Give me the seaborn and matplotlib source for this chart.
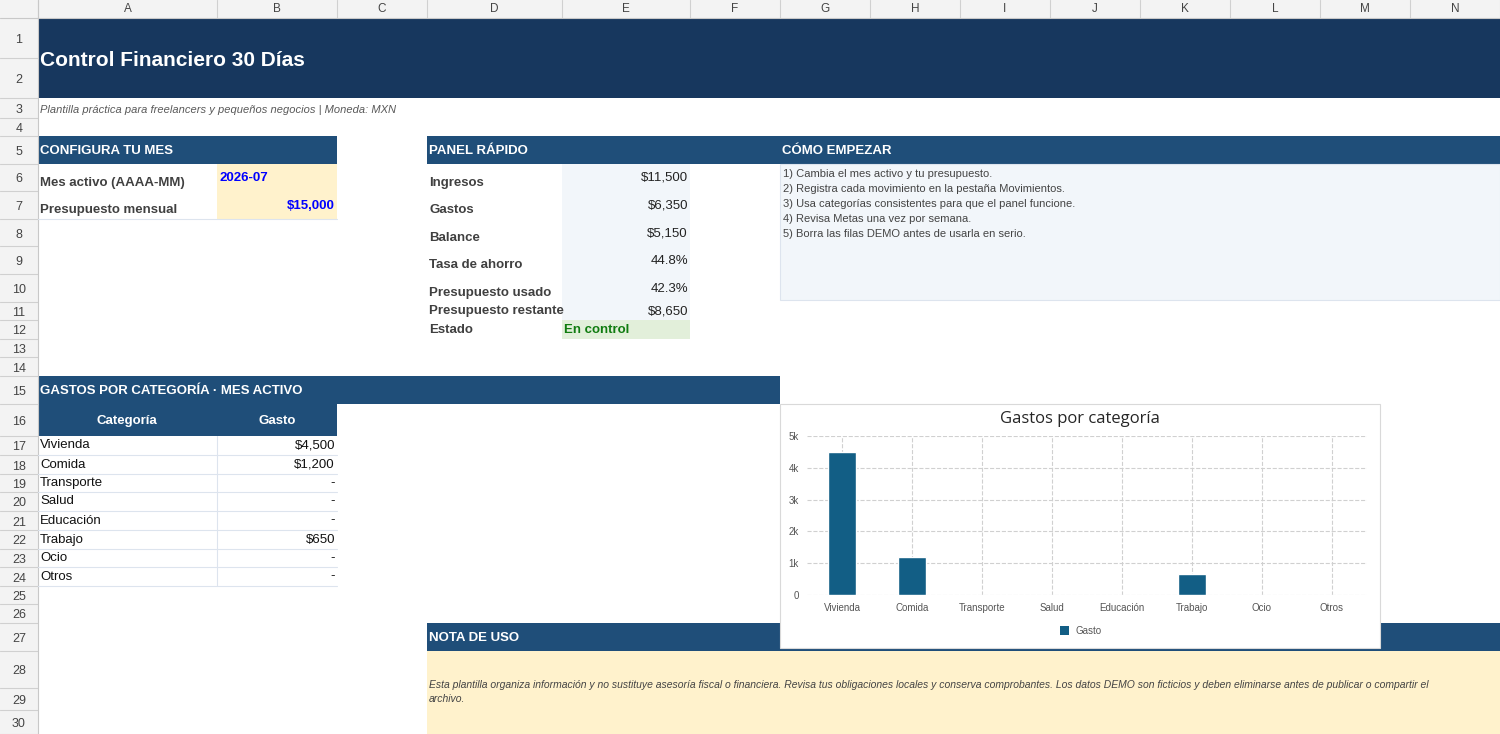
import matplotlib
matplotlib.use("Agg")
import matplotlib.pyplot as plt
import matplotlib.patches as mpatches
import seaborn as sns
import pandas as pd

sns.set_style("white")
plt.rcParams['font.family'] = ['Liberation Sans', 'DejaVu Sans']

# data
categorias = ["Vivienda", "Comida", "Transporte", "Salud", "Educación", "Trabajo", "Ocio", "Otros"]
gastos = [4500, 1200, 0, 0, 0, 650, 0, 0]
gastos_txt = ["$4,500", "$1,200", "-", "-", "-", "$650", "-", "-"]
panel_labels = ["Ingresos", "Gastos", "Balance", "Tasa de ahorro", "Presupuesto usado",
                "Presupuesto restante", "Estado"]
panel_values = ["$11,500", "$6,350", "$5,150", "44.8%", "42.3%", "$8,650", "En control"]
pasos = ["1) Cambia el mes activo y tu presupuesto.",
         "2) Registra cada movimiento en la pestaña Movimientos.",
         "3) Usa categorías consistentes para que el panel funcione.",
         "4) Revisa Metas una vez por semana.",
         "5) Borra las filas DEMO antes de usarla en serio."]
col_names = list("ABCDEFGHIJKLMN")
col_x = [38, 217, 337, 427, 562, 690, 780, 870, 960, 1050, 1140, 1230, 1320, 1410, 1500]
row_y = [18, 58, 98, 118, 136, 164, 191, 219, 246, 274, 302, 320, 339, 357, 376, 404,
         436, 455, 474, 492, 511, 530, 549, 567, 586, 604, 623, 651, 688, 710, 734]

W, H = 1500, 734
fig = plt.figure(figsize=(15, 7.34), dpi=100)
ax = fig.add_axes([0, 0, 1, 1])
ax.set_xlim(0, W)
ax.set_ylim(H, 0)
ax.axis("off")

DARK = "#17375e"
HEAD = "#1f4e79"
TXT = "#404040"

def rect(x0, y0, x1, y1, fc, ec="none", lw=0.8, z=1):
    ax.add_patch(mpatches.Rectangle((x0, y0), x1 - x0, y1 - y0, fc=fc, ec=ec, lw=lw, zorder=z))

def cy(r):
    return (row_y[r - 1] + row_y[r]) / 2

# sheet headers
rect(0, 0, W, 18, "#f3f3f3")
rect(0, 0, 38, H, "#f3f3f3")
for i, c in enumerate(col_names):
    ax.text((col_x[i] + col_x[i + 1]) / 2, 9, c, ha="center", va="center", fontsize=8.5, color="#444")
for x in col_x:
    ax.plot([x, x], [0, 18], color="#d0d0d0", lw=0.8)
for r in range(1, 31):
    ax.text(19, cy(r) + 2, str(r), ha="center", va="center", fontsize=9, color="#444")
    ax.plot([0, 38], [row_y[r], row_y[r]], color="#d0d0d0", lw=0.8)
ax.plot([38, 38], [0, H], color="#c8c8c8", lw=0.8)
ax.plot([0, W], [18, 18], color="#c8c8c8", lw=0.8)

# title band
rect(38, 18, W, 98, DARK)
ax.text(40, 61, "Control Financiero 30 Días", color="white", fontsize=15, fontweight="bold", va="center")
ax.text(40, 110, "Plantilla práctica para freelancers y pequeños negocios | Moneda: MXN",
        fontsize=8, style="italic", color="#595959", va="center")

# section headers
def header(x0, x1, r, txt):
    rect(x0, row_y[r - 1], x1, row_y[r], HEAD)
    ax.text(x0 + 2, cy(r) + 1, txt, color="white", fontsize=9.5, fontweight="bold", va="center")

header(38, 337, 5, "CONFIGURA TU MES")
header(427, 780, 5, "PANEL RÁPIDO")
header(780, W, 5, "CÓMO EMPEZAR")
header(38, 780, 15, "GASTOS POR CATEGORÍA · MES ACTIVO")
header(427, W, 27, "NOTA DE USO")

# configura
rect(217, 164, 337, 219, "#fff2cc")
ax.plot([38, 337], [219, 219], color="#dde4ee", lw=0.8)
ax.text(40, 183, "Mes activo (AAAA-MM)", fontsize=9.5, fontweight="bold", color=TXT, va="center")
ax.text(40, 210, "Presupuesto mensual", fontsize=9.5, fontweight="bold", color=TXT, va="center")
ax.text(219, 178, "2026-07", fontsize=9.5, fontweight="bold", color="#0000ff", va="center")
ax.text(335, 206, "$15,000", fontsize=9.5, fontweight="bold", color="#0000ff", va="center", ha="right")

# panel rapido
rect(562, 164, 690, 320, "#f2f6fa")
rect(562, 320, 690, 339, "#e2efda")
label_y = [183, 210, 238, 265, 293, 311, 330]
value_y = [178, 206, 233, 261, 289, 311, 330]
for i, (lab, val) in enumerate(zip(panel_labels, panel_values)):
    ax.text(429, label_y[i], lab, fontsize=9.5, fontweight="bold", color=TXT, va="center")
    if val == "En control":
        ax.text(564, value_y[i], val, fontsize=9.5, fontweight="bold", color="#107c10", va="center")
    else:
        ax.text(688, value_y[i], val, fontsize=9.5, color="#222", va="center", ha="right")

# como empezar
rect(780, 164, W, 300, "#f2f6fa", ec="#dde4ee")
for i, p in enumerate(pasos):
    ax.text(783, 174 + i * 15, p, fontsize=8, color="#444", va="center")

# tabla gastos
rect(38, 404, 337, 436, HEAD)
ax.text(127, 421, "Categoría", color="white", fontsize=9.5, fontweight="bold", ha="center", va="center")
ax.text(277, 421, "Gasto", color="white", fontsize=9.5, fontweight="bold", ha="center", va="center")
for i, (c, g) in enumerate(zip(categorias, gastos_txt)):
    r = 17 + i
    ax.text(40, cy(r), c, fontsize=9.5, color="#111", va="center")
    ax.text(335, cy(r), g, fontsize=9.5, color="#111", va="center", ha="right")
    ax.plot([38, 337], [row_y[r], row_y[r]], color="#dde4ee", lw=0.8)
ax.plot([217, 217], [436, 586], color="#dde4ee", lw=0.8)

# nota
rect(427, 651, W, H, "#fff2cc")
ax.text(429, 692, "Esta plantilla organiza información y no sustituye asesoría fiscal o financiera. "
        "Revisa tus obligaciones locales y conserva comprobantes. Los datos DEMO son ficticios y deben eliminarse antes de publicar o compartir el\narchivo.",
        fontsize=7.5, style="italic", color="#444", va="center", linespacing=1.6)

# chart box
rect(780, 404, 1380, 648, "white", ec="#d9d9d9", z=3)
ax.text(1080, 419, "Gastos por categoría", fontsize=12, ha="center", va="center", zorder=4,
        family=["Open Sans", "DejaVu Sans"])
rect(1060, 626, 1069, 635, "#125e85", z=4)
ax.text(1075, 631, "Gasto", fontsize=7, color="#555", va="center", zorder=4)

cax = fig.add_axes([807 / W, 1 - 595 / H, (1367 - 807) / W, (595 - 436) / H], zorder=5)
df = pd.DataFrame({"Categoría": categorias, "Gasto": gastos})
sns.barplot(data=df, x="Categoría", y="Gasto", color="#125e85", width=0.4, saturation=1, ax=cax)
cax.set_ylim(0, 5000)
cax.set_xlim(-0.5, 7.5)
cax.set_yticks([0, 1000, 2000, 3000, 4000, 5000])
cax.set_yticklabels(["0", "1k", "2k", "3k", "4k", "5k"])
cax.set_xlabel("")
cax.set_ylabel("")
cax.patch.set_alpha(0)
for s in cax.spines.values():
    s.set_visible(False)
cax.set_axisbelow(True)
cax.grid(True, ls="--", color="#d0d0d0", lw=0.8)
cax.tick_params(axis="both", labelsize=7, colors="#555", length=0, pad=6)

fig.savefig("out.png", dpi=100)
